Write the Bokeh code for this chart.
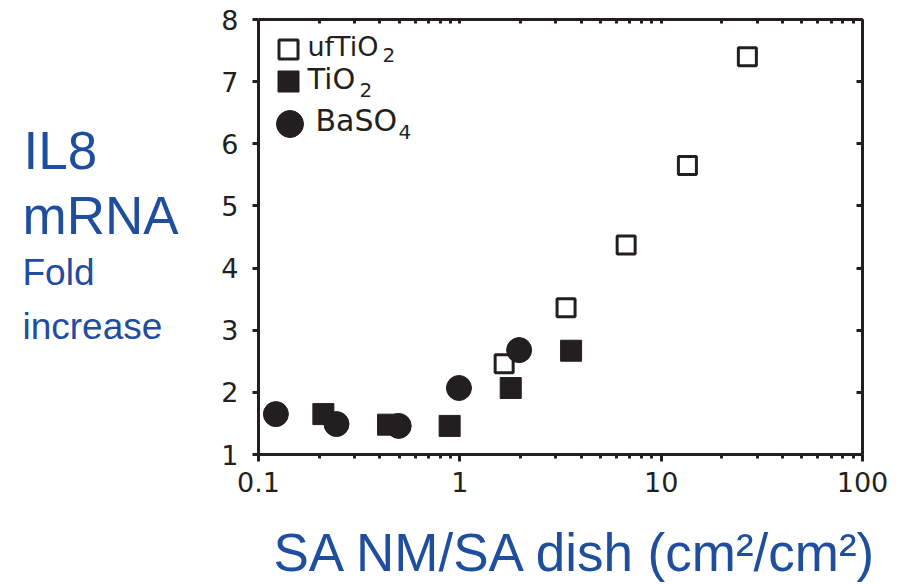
from bokeh.plotting import figure
from bokeh.models import (LogAxis, LinearAxis, Label, BoxAnnotation, Range1d,
                          LogTicker, FixedTicker, CustomJSTickFormatter)
from bokeh.layouts import row, column
from bokeh.embed import file_html
from bokeh.resources import INLINE

# ---- data ----
uf_x = [1.66, 3.37, 6.7, 13.5, 26.8]
uf_y = [2.46, 3.36, 4.37, 5.65, 7.40]
ti_x = [0.21, 0.44, 0.89, 1.79, 3.57]
ti_y = [1.65, 1.48, 1.46, 2.07, 2.67]
ba_x = [0.122, 0.244, 0.497, 0.99, 1.97]
ba_y = [1.65, 1.49, 1.46, 2.07, 2.68]
y_ticks = [1, 2, 3, 4, 5, 6, 7, 8]
series_names = ["ufTiO", "TiO", "BaSO"]
series_subs = ["2", "2", "4"]
y_title_lines = ["IL8", "mRNA", "Fold", "increase"]
x_title = "SA NM/SA dish (cm\u00b2/cm\u00b2)"

INK = "#231f20"
BLUE = "#1f4e9f"
TICK_FONT = "DejaVu Sans"
TITLE_FONT = "Liberation Sans"
BL = 0.44  # empirical baseline correction (fraction of font size)

W_LEFT, W_MAIN, H_TOP, H_BOTTOM = 218, 706, 515, 69


def blank_fig(w, h):
    f = figure(width=w, height=h, x_range=Range1d(0, 1), y_range=Range1d(0, 1),
               x_axis_location=None, y_axis_location=None,
               output_backend="svg", toolbar_location=None,
               min_border_left=0, min_border_right=0, min_border_top=0, min_border_bottom=0)
    f.outline_line_color = None
    f.grid.visible = False
    f.background_fill_color = "white"
    f.border_fill_color = "white"
    return f


def add_text(f, x, y, text, size, color, font):
    f.add_layout(Label(x=x, y=y + BL * size, x_units="screen", y_units="screen", text=text,
                       text_font=font, text_font_size=f"{size}px", text_color=color,
                       text_baseline="alphabetic"))


# ---------------- main plot ----------------
p = figure(width=W_MAIN, height=H_TOP, x_axis_type="log",
           x_range=Range1d(0.1, 100), y_range=Range1d(1, 8),
           output_backend="svg", toolbar_location=None,
           min_border_left=40, min_border_right=62,
           min_border_top=19, min_border_bottom=61)
p.outline_line_color = None
p.xgrid.visible = False
p.ygrid.visible = False
p.background_fill_color = "white"
p.border_fill_color = "white"

fmt = CustomJSTickFormatter(code="return String(Number(tick.toPrecision(6)));")
blank = CustomJSTickFormatter(code="return '';")


def style_axis(ax):
    ax.axis_line_color = INK
    ax.axis_line_width = 3
    ax.major_tick_line_color = INK
    ax.major_tick_line_width = 3
    ax.minor_tick_line_color = INK
    ax.minor_tick_line_width = 3
    ax.major_label_text_color = INK
    ax.major_label_text_font = TICK_FONT
    ax.major_label_text_font_size = "27px"


xa = p.xaxis[0]
xa.ticker = LogTicker(num_minor_ticks=10)
xa.formatter = fmt
style_axis(xa)
xa.major_tick_out = 7
xa.major_tick_in = 0
xa.minor_tick_out = 4
xa.minor_tick_in = 0
xa.major_label_standoff = 10

ya = p.yaxis[0]
ya.ticker = FixedTicker(ticks=y_ticks)
style_axis(ya)
ya.major_tick_out = 6
ya.major_tick_in = 0
ya.minor_tick_line_color = None
ya.major_label_standoff = 14

top = LogAxis(ticker=LogTicker(num_minor_ticks=10), formatter=blank)
style_axis(top)
top.major_tick_in = 0
top.major_tick_out = 0
top.minor_tick_in = 4
top.minor_tick_out = 0
top.major_label_standoff = 0
top.major_label_text_font_size = "10px"
p.add_layout(top, "above")

right = LinearAxis(ticker=FixedTicker(ticks=y_ticks), formatter=blank)
style_axis(right)
right.major_tick_in = 6
right.major_tick_out = 0
right.minor_tick_line_color = None
right.major_label_standoff = 0
right.major_label_text_font_size = "10px"
p.add_layout(right, "right")

p.scatter(uf_x, uf_y, marker="square", size=18, fill_color="white",
          line_color=INK, line_width=3)
p.scatter(ti_x, ti_y, marker="square", size=21, fill_color=INK,
          line_color=INK, line_width=1)
p.scatter(ba_x, ba_y, marker="circle", size=25, fill_color=INK,
          line_color=INK, line_width=1)


def box(l, r, b, t, **kw):
    return BoxAnnotation(left=l, right=r, bottom=b, top=t,
                         left_units="screen", right_units="screen",
                         bottom_units="screen", top_units="screen",
                         line_alpha=1, line_dash="solid", fill_alpha=1, **kw)


p.add_layout(box(20.5, 39.5, 395.5, 414.5, fill_color="white", line_color=INK, line_width=3))
p.add_layout(box(19.5, 40.5, 362.5, 383.5, fill_color=INK, line_color=INK, line_width=1))
p.add_layout(box(18, 45, 317, 344, border_radius=14, fill_color=INK, line_color=INK, line_width=1))

# (text x, baseline y, size, sub x, sub baseline y)
leg_pos = [(49, 396, 27, 124, 391), (49, 363, 29, 101, 356), (57, 321, 30, 140, 314)]
for name, sub, (tx, ty, fs, sx, sy) in zip(series_names, series_subs, leg_pos):
    add_text(p, tx, ty, name, fs, INK, TICK_FONT)
    add_text(p, sx, sy, sub, 20, INK, TICK_FONT)

# ---------------- y title (left panel; frame aligned with main frame) ----------------
left = blank_fig(W_LEFT, H_TOP)
FRAME_BOTTOM = 454
y_title_pos = [(23, FRAME_BOTTOM - 173, 53), (22, FRAME_BOTTOM - 238, 53),
               (22, FRAME_BOTTOM - 288, 37), (22, FRAME_BOTTOM - 342, 37)]
for line, (tx, ty, fs) in zip(y_title_lines, y_title_pos):
    add_text(left, tx, ty, line, fs, BLUE, TITLE_FONT)

# ---------------- x title (bottom panel) ----------------
bottom = blank_fig(W_LEFT + W_MAIN, H_BOTTOM)
add_text(bottom, 273, 9, x_title, 53, BLUE, TITLE_FONT)

layout = column(row(left, p), bottom)
open("out.html", "w").write(file_html(layout, INLINE))
